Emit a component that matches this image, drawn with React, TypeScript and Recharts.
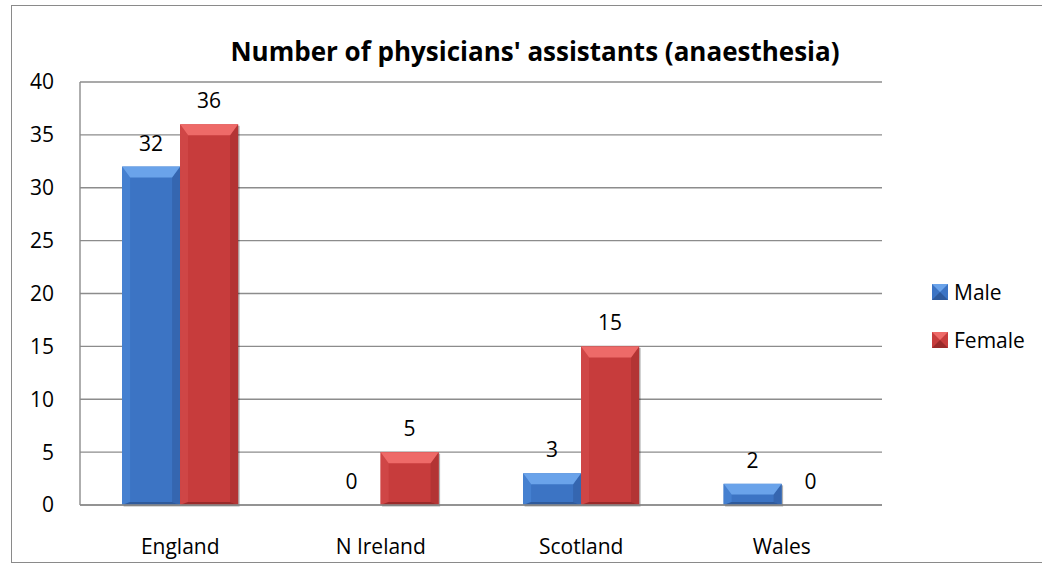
import React from 'react';
import { BarChart, Bar, XAxis, YAxis, CartesianGrid, LabelList, Legend } from 'recharts';

const categories = ['England', 'N Ireland', 'Scotland', 'Wales'];
const maleValues = [32, 0, 3, 2];
const femaleValues = [36, 5, 15, 0];
const yTicks = [0, 5, 10, 15, 20, 25, 30, 35, 40];
const seriesNames = ['Male', 'Female'];
const titleText = "Number of physicians' assistants (anaesthesia)";

const data = categories.map((c, i) => ({ name: c, male: maleValues[i], female: femaleValues[i] }));

const FONT = '"Open Sans", "Noto Sans", sans-serif';

const palettes: Record<string, any> = {
  male: { body: '#3C74C4', top: '#6AA3EA', left: '#4580D0', right: '#3566B0', bottom: '#2E5A9C', shadow: 'rgba(0,0,0,0.3)' },
  female: { body: '#C73C3C', top: '#EE6A68', left: '#CF4646', right: '#B33434', bottom: '#9A2A2A', shadow: 'rgba(0,0,0,0.3)' },
};

const makeBevel = (key: string) => (props: any) => {
  const { x, y, width, height } = props;
  if (!height || height <= 0) return <g />;
  const p = palettes[key];
  const bv = Math.min(11, height / 2);
  const bh = Math.min(8, width / 2);
  const bb = Math.min(3, height / 4);
  return (
    <g>
      <rect x={x + 1.5} y={y + 1.5} width={width} height={height} fill={p.shadow} />
      <rect x={x} y={y} width={width} height={height} fill={p.body} />
      <polygon points={`${x},${y} ${x + bh},${y + bv} ${x + bh},${y + height - bb} ${x},${y + height}`} fill={p.left} />
      <polygon points={`${x + width},${y} ${x + width - bh},${y + bv} ${x + width - bh},${y + height - bb} ${x + width},${y + height}`} fill={p.right} />
      <polygon points={`${x},${y + height} ${x + bh},${y + height - bb} ${x + width - bh},${y + height - bb} ${x + width},${y + height}`} fill={p.bottom} />
      <polygon points={`${x},${y} ${x + width},${y} ${x + width - bh},${y + bv} ${x + bh},${y + bv}`} fill={p.top} />
    </g>
  );
};

const LegendContent = () => (
  <div style={{ fontFamily: FONT, fontSize: 21, color: '#000' }}>
    {seriesNames.map((n, i) => {
      const p = palettes[i === 0 ? 'male' : 'female'];
      return (
        <div key={n} style={{ display: 'flex', alignItems: 'center', height: 24, marginBottom: i === 0 ? 24 : 0 }}>
          <svg width={16} height={16} style={{ marginRight: 6 }}>
            <rect x={0} y={0} width={16} height={16} fill={p.body} />
            <polygon points="0,0 16,0 8,8" fill={p.top} />
            <polygon points="0,16 16,16 8,8" fill={p.bottom} />
          </svg>
          <span>{n}</span>
        </div>
      );
    })}
  </div>
);

export default function App() {
  return (
    <div style={{ position: 'absolute', left: 0, top: 0, width: 1042, height: 563, overflow: 'hidden', background: '#fff' }}>
      <div style={{ position: 'absolute', left: 11, top: 5, width: 1100, height: 556, border: '1px solid #8a8a8a' }} />
      <div style={{ position: 'absolute', left: 0, width: 1070, top: 35, textAlign: 'center', fontFamily: FONT, fontWeight: 700, fontSize: 26, color: '#000', lineHeight: '32px' }}>
        {titleText}
      </div>
      <div style={{ position: 'absolute', left: 0, top: 0 }}>
        <BarChart width={1042} height={563} data={data} margin={{ top: 82, right: 50, bottom: 0, left: 0 }} barCategoryGap="21%" barGap={0}>
          <CartesianGrid vertical={false} stroke="#8c8c8c" strokeWidth={1.4} />
          <XAxis dataKey="name" height={58} tickLine={false} axisLine={{ stroke: '#8c8c8c', strokeWidth: 1.4 }} tickMargin={28}
            tick={{ fontFamily: FONT, fontSize: 21, fill: '#000' }} interval={0} />
          <YAxis width={80} domain={[0, 40]} ticks={yTicks} tickLine={false} axisLine={{ stroke: '#8c8c8c', strokeWidth: 1.4 }} tickMargin={20}
            tick={{ fontFamily: FONT, fontSize: 21, fill: '#000' }} interval={0} />
          <Legend layout="vertical" align="right" verticalAlign="top" content={<LegendContent />}
            wrapperStyle={{ width: 110, left: 932, top: 280 }} />
          <Bar dataKey="male" name="Male" fill="#3C74C4" shape={makeBevel('male')} isAnimationActive={false}>
            <LabelList dataKey="male" position="top" offset={16} style={{ fontFamily: FONT, fontSize: 21, fill: '#000' }} />
          </Bar>
          <Bar dataKey="female" name="Female" fill="#C73C3C" shape={makeBevel('female')} isAnimationActive={false}>
            <LabelList dataKey="female" position="top" offset={16} style={{ fontFamily: FONT, fontSize: 21, fill: '#000' }} />
          </Bar>
        </BarChart>
      </div>
    </div>
  );
}
